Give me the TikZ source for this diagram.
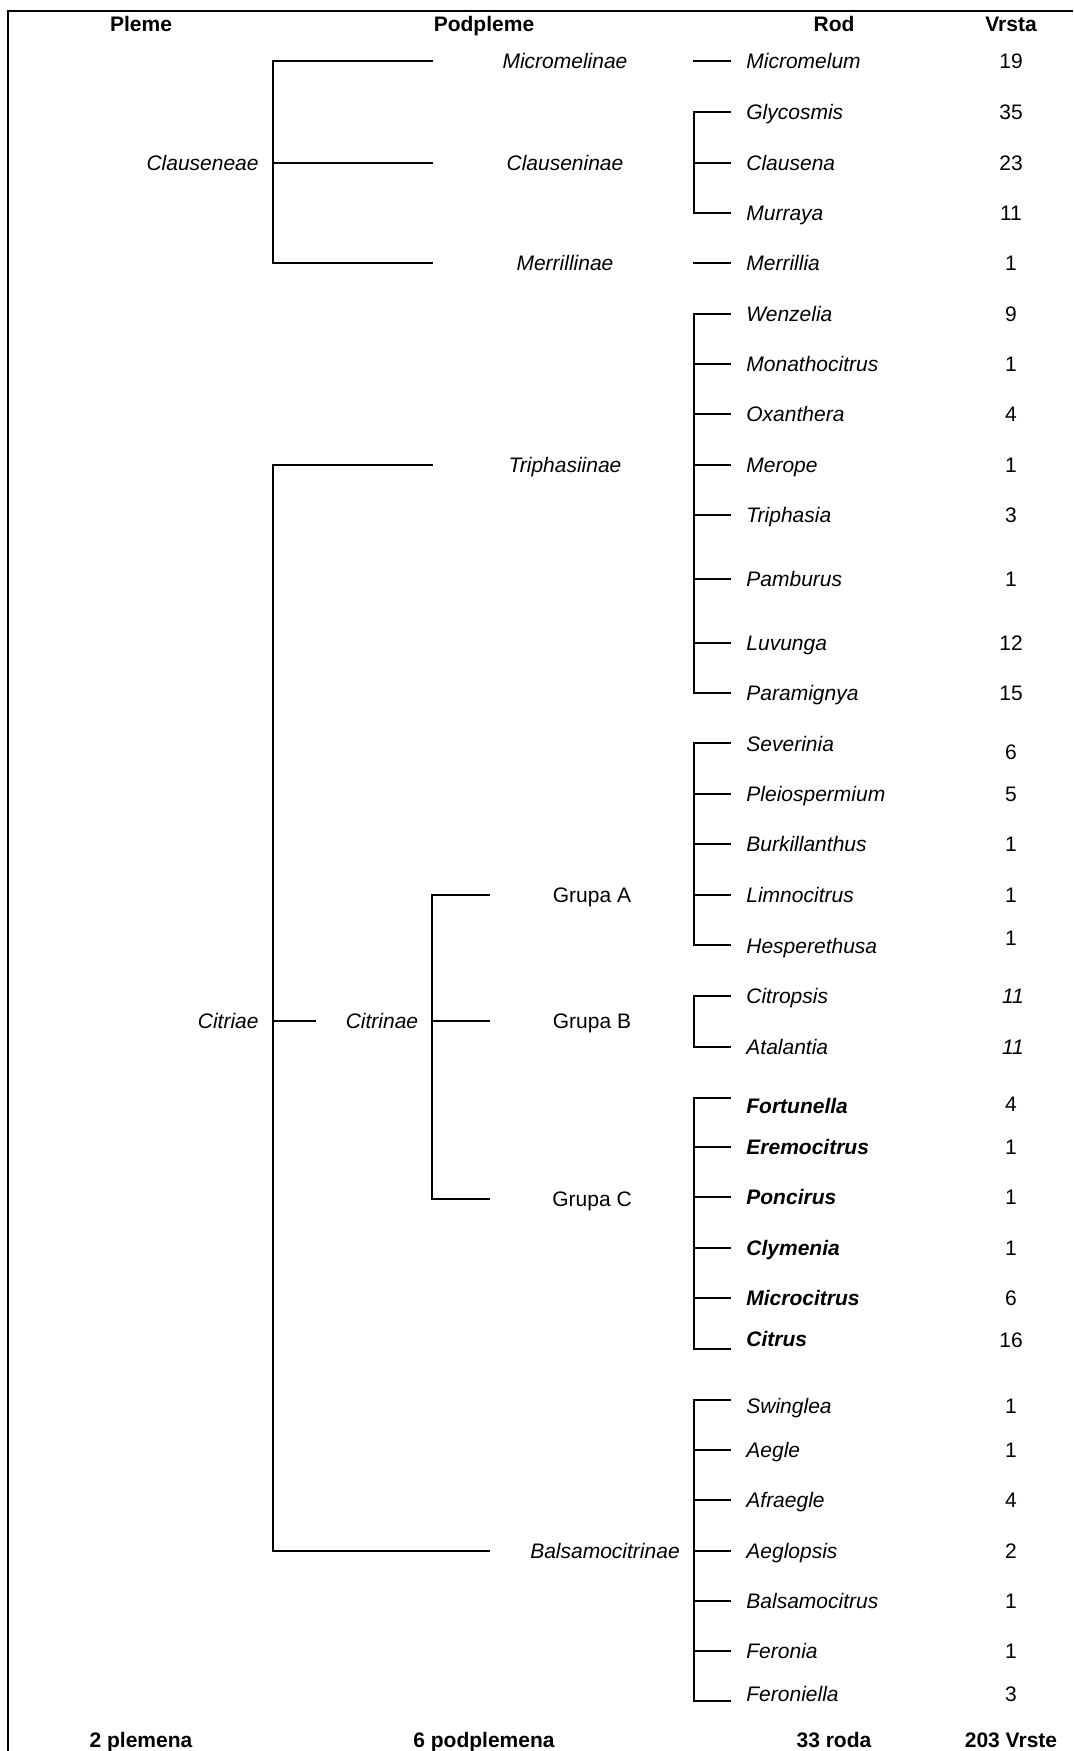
\documentclass[tikz,border=0pt]{standalone}
\usepackage{fontspec}
\setmainfont{Liberation Sans}
\newcommand{\velicina}{\fontsize{10.5}{12.6}\selectfont}
\tikzstyle{grana}=[line width=1pt,line cap=rect]
\tikzstyle{naslov}=[font=\velicina\bfseries,inner sep=0pt,text height=7.5pt,text depth=0pt]
\tikzstyle{takson}=[font=\velicina\itshape,inner sep=0pt,text height=7.5pt,text depth=0pt]
\tikzstyle{grupa}=[font=\velicina,inner sep=0pt,text height=7.5pt,text depth=0pt]
\tikzstyle{rod}=[anchor=west,font=\velicina\itshape,inner xsep=8pt,inner ysep=0pt,text height=7.5pt,text depth=0pt]
\tikzstyle{jaki}=[rod,font=\velicina\bfseries\itshape]
\tikzstyle{broj}=[font=\velicina,inner sep=0pt,text height=7.5pt,text depth=0pt]

\begin{document}
\begin{tikzpicture}[x=0.5pt,y=-0.5pt]
\useasboundingbox (0,0) rectangle (1073,1751);
% okvir
\coordinate (ok1) at (8,1751);
\coordinate (ok2) at (8,11);
\coordinate (ok3) at (1073,11);
\draw[grana,line cap=butt] (ok1) -- (ok2) -- (ok3);

% naslovi
\node[naslov] (pleme) at (141,23.5) {Pleme};
\node[naslov] (podpleme) at (484,23.5) {Podpleme};
\node[naslov] (rodh) at (834,23.5) {Rod};
\node[naslov] (vrsta) at (1011,23.5) {Vrsta};

% plemena
\node[takson,anchor=east] (clauseneae) at (259,163) {Clauseneae};
\node[takson,anchor=east] (citriae) at (259,1021) {Citriae};
\node[takson] (citrinae) at (382,1021) {Citrinae};

% podplemena
\node[takson] (micromelinae) at (565,61) {Micromelinae};
\node[takson] (clauseninae) at (565,163) {Clauseninae};
\node[takson] (merrillinae) at (565,263) {Merrillinae};
\node[takson] (triphasiinae) at (565,464.5) {Triphasiinae};
\node[takson] (balsamocitrinae) at (605,1551) {Balsamocitrinae};
\node[grupa] (grupaA) at (592,895) {Grupa A};
\node[grupa] (grupaB) at (592,1021) {Grupa B};
\node[grupa] (grupaC) at (592,1199) {Grupa C};

% stablo plemena
\coordinate (p1) at (272.5,61);
\coordinate (p2) at (272.5,163);
\coordinate (p3) at (272.5,263);
\coordinate (p1e) at (432,61);
\coordinate (p2e) at (432,163);
\coordinate (p3e) at (432,263);
\draw[grana] (p1e) -- (p1) -- (p3) -- (p3e);
\draw[grana] (p2) -- (p2e);

\coordinate (q1) at (272.5,464.5);
\coordinate (q2) at (272.5,1021);
\coordinate (q3) at (272.5,1551);
\coordinate (q1e) at (432,464.5);
\coordinate (q2e) at (315,1021);
\coordinate (q3e) at (489,1551);
\draw[grana] (q1e) -- (q1) -- (q3) -- (q3e);
\draw[grana] (q2) -- (q2e);

\coordinate (r1) at (431.5,895);
\coordinate (r2) at (431.5,1021);
\coordinate (r3) at (431.5,1199);
\coordinate (r1e) at (489,895);
\coordinate (r2e) at (489,1021);
\coordinate (r3e) at (489,1199);
\draw[grana] (r1e) -- (r1) -- (r3) -- (r3e);
\draw[grana] (r2) -- (r2e);

% rodovi
\node[rod] (g1) at (730,61) {Micromelum};
\node[rod] (g2) at (730,112) {Glycosmis};
\node[rod] (g3) at (730,163) {Clausena};
\node[rod] (g4) at (730,213) {Murraya};
\node[rod] (g5) at (730,263) {Merrillia};
\node[rod] (g6) at (730,314) {Wenzelia};
\node[rod] (g7) at (730,364) {Monathocitrus};
\node[rod] (g8) at (730,414) {Oxanthera};
\node[rod] (g9) at (730,464.5) {Merope};
\node[rod] (g10) at (730,515) {Triphasia};
\node[rod] (g11) at (730,579) {Pamburus};
\node[rod] (g12) at (730,643) {Luvunga};
\node[rod] (g13) at (730,693) {Paramignya};
\node[rod] (g14) at (730,744) {Severinia};
\node[rod] (g15) at (730,794) {Pleiospermium};
\node[rod] (g16) at (730,844) {Burkillanthus};
\node[rod] (g17) at (730,895) {Limnocitrus};
\node[rod] (g18) at (730,946) {Hesperethusa};
\node[rod] (g19) at (730,996) {Citropsis};
\node[rod] (g20) at (730,1047) {Atalantia};
\node[jaki] (g21) at (730,1106) {Fortunella};
\node[jaki] (g22) at (730,1147) {Eremocitrus};
\node[jaki] (g23) at (730,1197) {Poncirus};
\node[jaki] (g24) at (730,1248) {Clymenia};
\node[jaki] (g25) at (730,1298) {Microcitrus};
\node[jaki] (g26) at (730,1339) {Citrus};
\node[rod] (g27) at (730,1406) {Swinglea};
\node[rod] (g28) at (730,1450) {Aegle};
\node[rod] (g29) at (730,1500) {Afraegle};
\node[rod] (g30) at (730,1551) {Aeglopsis};
\node[rod] (g31) at (730,1601) {Balsamocitrus};
\node[rod] (g32) at (730,1651) {Feronia};
\node[rod] (g33) at (730,1694) {Feroniella};

% broj vrsta
\node[broj] (v1) at (1011,61) {19};
\node[broj] (v2) at (1011,112) {35};
\node[broj] (v3) at (1011,163) {23};
\node[broj] (v4) at (1011,213) {11};
\node[broj] (v5) at (1011,263) {1};
\node[broj] (v6) at (1011,314) {9};
\node[broj] (v7) at (1011,364) {1};
\node[broj] (v8) at (1011,414) {4};
\node[broj] (v9) at (1011,464.5) {1};
\node[broj] (v10) at (1011,515) {3};
\node[broj] (v11) at (1011,579) {1};
\node[broj] (v12) at (1011,643) {12};
\node[broj] (v13) at (1011,693) {15};
\node[broj] (v14) at (1011,752) {6};
\node[broj] (v15) at (1011,794) {5};
\node[broj] (v16) at (1011,844) {1};
\node[broj] (v17) at (1011,895) {1};
\node[broj] (v18) at (1011,938) {1};
\node[broj,font=\velicina\itshape] (v19) at (1013,996) {11};
\node[broj,font=\velicina\itshape] (v20) at (1013,1047) {11};
\node[broj] (v21) at (1011,1104) {4};
\node[broj] (v22) at (1011,1147) {1};
\node[broj] (v23) at (1011,1197) {1};
\node[broj] (v24) at (1011,1248) {1};
\node[broj] (v25) at (1011,1298) {6};
\node[broj] (v26) at (1011,1340) {16};
\node[broj] (v27) at (1011,1406) {1};
\node[broj] (v28) at (1011,1450) {1};
\node[broj] (v29) at (1011,1500) {4};
\node[broj] (v30) at (1011,1551) {2};
\node[broj] (v31) at (1011,1601) {1};
\node[broj] (v32) at (1011,1651) {1};
\node[broj] (v33) at (1011,1694) {3};

% spojnice rodova
\coordinate (s1) at (694,61);
\coordinate (s5) at (694,263);
\draw[grana] (s1) -- (g1.west);
\draw[grana] (s5) -- (g5.west);

\coordinate (s2) at (694,112);
\coordinate (s4) at (694,213);
\draw[grana] (g2.west) -- (s2) -- (s4) -- (g4.west);
\draw[grana] (g3.west -| s2) -- (g3.west);

\coordinate (s6) at (694,314);
\coordinate (s13) at (694,693);
\draw[grana] (g6.west) -- (s6) -- (s13) -- (g13.west);
\draw[grana] (g7.west -| s6) -- (g7.west);
\draw[grana] (g8.west -| s6) -- (g8.west);
\draw[grana] (g9.west -| s6) -- (g9.west);
\draw[grana] (g10.west -| s6) -- (g10.west);
\draw[grana] (g11.west -| s6) -- (g11.west);
\draw[grana] (g12.west -| s6) -- (g12.west);

\coordinate (s14) at (694,743);
\coordinate (s18) at (694,945);
\draw[grana] (g14.west |- s14) -- (s14) -- (s18) -- (g18.west |- s18);
\draw[grana] (g15.west -| s14) -- (g15.west);
\draw[grana] (g16.west -| s14) -- (g16.west);
\draw[grana] (g17.west -| s14) -- (g17.west);

\coordinate (s19) at (694,996);
\coordinate (s20) at (694,1047);
\draw[grana] (g19.west) -- (s19) -- (s20) -- (g20.west);

\coordinate (s21) at (694,1098);
\coordinate (s26) at (694,1349);
\draw[grana] (g21.west |- s21) -- (s21) -- (s26) -- (g26.west |- s26);
\draw[grana] (g22.west -| s21) -- (g22.west);
\draw[grana] (g23.west -| s21) -- (g23.west);
\draw[grana] (g24.west -| s21) -- (g24.west);
\draw[grana] (g25.west -| s21) -- (g25.west);

\coordinate (s27) at (694,1400);
\coordinate (s33) at (694,1701);
\draw[grana] (g27.west |- s27) -- (s27) -- (s33) -- (g33.west |- s33);
\draw[grana] (g28.west -| s27) -- (g28.west);
\draw[grana] (g29.west -| s27) -- (g29.west);
\draw[grana] (g30.west -| s27) -- (g30.west);
\draw[grana] (g31.west -| s27) -- (g31.west);
\draw[grana] (g32.west -| s27) -- (g32.west);

% ukupno
\node[naslov] (uk1) at (141,1740) {2 plemena};
\node[naslov] (uk2) at (484,1740) {6 podplemena};
\node[naslov] (uk3) at (834,1740) {33 roda};
\node[naslov] (uk4) at (1011,1740) {203 Vrste};
\end{tikzpicture}
\end{document}
